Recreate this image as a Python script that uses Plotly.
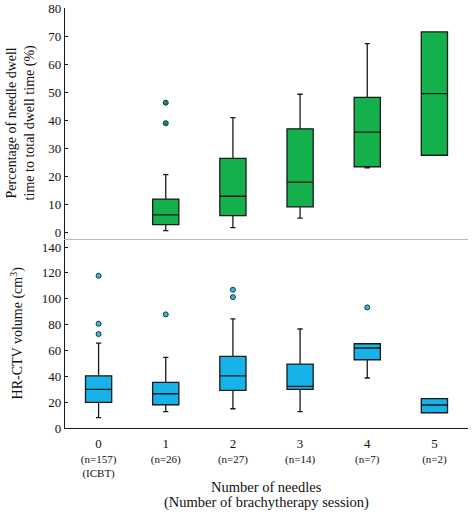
import plotly.graph_objects as go

# ---- data ----
categories = [0, 1, 2, 3, 4, 5]
tick_n = ["(n=157)", "(n=26)", "(n=27)", "(n=14)", "(n=7)", "(n=2)"]

# Top panel: percentage of needle dwell time (categories 1..5)
dwell_x = [1, 2, 3, 4, 5]
dwell_low = [0.8, 1.8, 5.2, 23.1, 27.6]
dwell_q1 = [2.9, 6.1, 9.2, 23.5, 27.6]
dwell_med = [6.4, 13.0, 18.0, 35.8, 49.5]
dwell_q3 = [12.0, 26.5, 37.0, 48.2, 71.5]
dwell_high = [20.7, 41.0, 49.3, 67.3, 71.5]
dwell_out_x = [1, 1]
dwell_out_y = [46.3, 39.0]

# Bottom panel: HR-CTV volume (cm3)
vol_x = [0, 1, 2, 3, 4, 5]
vol_low = [8.0, 12.6, 14.9, 12.6, 38.7, 11.8]
vol_q1 = [19.8, 18.0, 29.1, 29.9, 52.8, 11.8]
vol_med = [29.9, 26.5, 40.4, 32.2, 61.9, 17.8]
vol_q3 = [40.4, 35.3, 55.4, 49.5, 65.2, 22.7]
vol_high = [65.7, 54.6, 84.5, 76.6, 65.2, 22.7]
vol_out_x = [0, 0, 0, 1, 2, 2, 4]
vol_out_y = [117.8, 80.7, 72.7, 87.9, 107.0, 101.3, 93.3]

GREEN = "#13b04c"
BLUE = "#18b2ea"
FONT = "Liberation Serif"
TXT = "#111111"

fig = go.Figure()

fig.add_trace(go.Box(
    x=dwell_x, q1=dwell_q1, median=dwell_med, q3=dwell_q3,
    lowerfence=dwell_low, upperfence=dwell_high,
    fillcolor=GREEN, line=dict(color="#1a1a1a", width=1.3),
    width=0.39, whiskerwidth=0.2, boxpoints=False,
    xaxis="x2", yaxis="y2", showlegend=False, hoverinfo="skip"))
fig.add_trace(go.Scatter(
    x=dwell_out_x, y=dwell_out_y, mode="markers",
    marker=dict(size=5, color="#12955a", line=dict(color="#0c3b2a", width=1)),
    xaxis="x2", yaxis="y2", showlegend=False, hoverinfo="skip"))

fig.add_trace(go.Box(
    x=vol_x, q1=vol_q1, median=vol_med, q3=vol_q3,
    lowerfence=vol_low, upperfence=vol_high,
    fillcolor=BLUE, line=dict(color="#1a1a1a", width=1.3),
    width=0.39, whiskerwidth=0.2, boxpoints=False,
    xaxis="x", yaxis="y", showlegend=False, hoverinfo="skip"))
fig.add_trace(go.Scatter(
    x=vol_out_x, y=vol_out_y, mode="markers",
    marker=dict(size=5, color="#3fb3d6", line=dict(color="#123a4a", width=1)),
    xaxis="x", yaxis="y", showlegend=False, hoverinfo="skip"))

ticktext = [
    f"<span style='font-size:13px'>{c}</span><br>{n}" + ("<br>(ICBT)" if c == 0 else "")
    for c, n in zip(categories, tick_n)
]

split = 0.4505
fig.update_layout(
    width=475, height=516,
    margin=dict(l=65, r=7, t=8, b=88, autoexpand=False),
    paper_bgcolor="white", plot_bgcolor="white",
    font=dict(family=FONT, color=TXT, size=13),
    xaxis=dict(domain=[0, 1], range=[-0.5, 5.5], tickmode="array",
               tickvals=categories, ticktext=ticktext, ticks="",
               tickfont=dict(size=11, family=FONT, color=TXT), automargin=False,
               ticklabelstandoff=6,
               showline=True, linecolor="#1a1a1a", linewidth=1.3,
               showgrid=False, zeroline=False, anchor="y"),
    yaxis=dict(domain=[0, split], range=[0, 146.4], tickvals=[0, 20, 40, 60, 80, 100, 120, 140],
               ticks="inside", ticklen=3, tickcolor="#1a1a1a", automargin=False,
               showline=True, linecolor="#1a1a1a", linewidth=1.3,
               showgrid=False, zeroline=False, anchor="x",
               tickfont=dict(size=13, family=FONT, color=TXT)),
    xaxis2=dict(domain=[0, 1], range=[-0.5, 5.5], showticklabels=False, ticks="",
                showline=True, linecolor="#bbbbbb", linewidth=1.3, automargin=False,
                showgrid=False, zeroline=False, anchor="y2"),
    yaxis2=dict(domain=[split, 1], range=[-2.14, 80], tickvals=[0, 10, 20, 30, 40, 50, 60, 70, 80],
                ticks="inside", ticklen=3, tickcolor="#1a1a1a", automargin=False,
                showline=True, linecolor="#1a1a1a", linewidth=1.3,
                showgrid=False, zeroline=False, anchor="x2",
                tickfont=dict(size=13, family=FONT, color=TXT)),
)

fig.add_annotation(text="Percentage of needle dwell<br>time to total dwell time (%)",
                   xref="paper", yref="paper", x=0, y=(1 + split) / 2,
                   xanchor="center", yanchor="middle", xshift=-44, textangle=-90,
                   showarrow=False, font=dict(size=14, family=FONT, color=TXT))
fig.add_annotation(text="HR-CTV volume (cm<sup>3</sup>)",
                   xref="paper", yref="paper", x=0, y=split / 2,
                   xanchor="center", yanchor="middle", xshift=-48, textangle=-90,
                   showarrow=False, font=dict(size=14, family=FONT, color=TXT))
fig.add_annotation(text="Number of needles",
                   xref="paper", yref="paper", x=0.5, y=0,
                   xanchor="center", yanchor="middle", yshift=-59,
                   showarrow=False, font=dict(size=14.5, family=FONT, color=TXT))
fig.add_annotation(text="(Number of brachytherapy session)",
                   xref="paper", yref="paper", x=0.5, y=0,
                   xanchor="center", yanchor="middle", yshift=-74,
                   showarrow=False, font=dict(size=14.5, family=FONT, color=TXT))

# remove the default 8px page margin so the figure sits at the window origin
fig.write_html("out.html", config={"displayModeBar": False},
               post_script="document.body.style.margin='0';")
